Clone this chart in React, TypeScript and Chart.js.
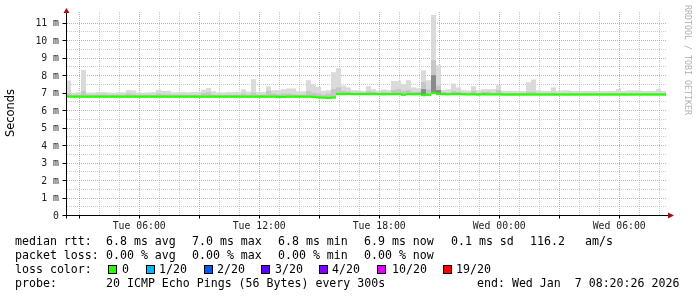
import React, { useEffect, useRef } from 'react';
import { Chart, registerables } from 'chart.js';
Chart.register(...registerables);

// time axis: hours since Tue 00:00; graph covers 30 h ending Wed 08:20:26
const startHour = 2.3406;
const spanHours = 30;
const tickHours = [6, 12, 18, 24, 30];
const tickLabels = ['Tue 06:00', 'Tue 12:00', 'Tue 18:00', 'Wed 00:00', 'Wed 06:00'];
const yMax = 11.5;

// 120 bins of 15 minutes, values in ms
const medianRtt = [
  6.77, 6.77, 6.77, 6.77, 6.77, 6.77, 6.77, 6.77, 6.77, 6.77,
  6.77, 6.77, 6.77, 6.77, 6.77, 6.77, 6.77, 6.77, 6.77, 6.77,
  6.77, 6.77, 6.77, 6.77, 6.77, 6.77, 6.77, 6.77, 6.77, 6.77,
  6.77, 6.77, 6.77, 6.77, 6.77, 6.77, 6.77, 6.77, 6.77, 6.77,
  6.77, 6.77, 6.76, 6.76, 6.77, 6.77, 6.77, 6.77, 6.77, 6.76,
  6.73, 6.71, 6.7, 6.72, 6.92, 6.92, 6.93, 6.92, 6.92, 6.92,
  6.92, 6.92, 6.92, 6.91, 6.92, 6.92, 6.92, 6.88, 6.92, 6.91,
  6.92, 6.86, 6.88, 6.98, 6.92, 6.92, 6.91, 6.92, 6.92, 6.91,
  6.9, 6.91, 6.89, 6.91, 6.9, 6.9, 6.9, 6.89, 6.89, 6.89,
  6.89, 6.89, 6.89, 6.89, 6.89, 6.89, 6.89, 6.89, 6.89, 6.89,
  6.89, 6.89, 6.89, 6.89, 6.89, 6.89, 6.89, 6.89, 6.89, 6.89,
  6.89, 6.89, 6.89, 6.89, 6.89, 6.89, 6.89, 6.89, 6.89, 6.89,
];

const smokeMax = [
  7.7, 7.0, 7.02, 8.3, 7.0, 7.01, 7.04, 7.04, 7.01, 7.0,
  7.02, 7.02, 7.14, 7.12, 7.02, 7.0, 7.02, 7.03, 7.17, 7.1,
  7.1, 7.02, 7.02, 7.03, 7.02, 7.04, 7.04, 7.17, 7.26, 7.08,
  7.02, 7.01, 7.03, 7.03, 7.04, 7.19, 7.06, 7.77, 7.04, 7.03,
  7.37, 7.14, 7.14, 7.2, 7.24, 7.24, 7.08, 7.08, 7.71, 7.5,
  7.33, 7.1, 7.14, 8.17, 8.4, 7.4, 7.3, 7.14, 7.14, 7.1,
  7.37, 7.2, 7.12, 7.18, 7.15, 7.67, 7.67, 7.5, 7.71, 7.3,
  7.25, 8.28, 7.71, 11.45, 8.57, 7.14, 7.2, 7.52, 7.3, 7.14,
  7.12, 7.37, 7.14, 7.2, 7.2, 7.2, 7.43, 7.1, 7.1, 7.1,
  7.09, 7.09, 7.6, 7.75, 7.13, 7.09, 7.1, 7.3, 7.1, 7.13,
  7.13, 7.09, 7.09, 7.09, 7.1, 7.09, 7.09, 7.09, 7.09, 7.1,
  7.2, 7.09, 7.13, 7.13, 7.13, 7.09, 7.09, 7.1, 7.2, 7.1,
];

const smokeMid = [
  6.95, 6.88, 6.88, 7.1, 6.88, 6.88, 6.9, 6.9, 6.88, 6.88,
  6.88, 6.88, 6.95, 6.9, 6.88, 6.88, 6.88, 6.88, 6.95, 6.9,
  6.9, 6.88, 6.88, 6.88, 6.88, 6.88, 6.88, 6.98, 7.02, 6.88,
  6.88, 6.88, 6.88, 6.88, 6.88, 6.95, 6.88, 7.0, 6.88, 6.88,
  7.1, 6.95, 6.9, 6.95, 6.95, 6.9, 6.88, 6.88, 7.1, 7.0,
  6.95, 6.88, 6.95, 7.2, 7.3, 7.1, 7.05, 7.0, 7.0, 6.99,
  7.1, 7.05, 6.99, 7.05, 6.99, 7.15, 7.2, 7.1, 7.15, 7.05,
  7.05, 7.6, 7.2, 8.86, 7.4, 7.05, 7.0, 7.1, 7.05, 7.0,
  6.99, 7.1, 6.99, 7.05, 7.05, 6.99, 7.15, 6.98, 6.98, 6.98,
  6.97, 6.97, 7.05, 7.05, 6.97, 6.97, 6.97, 7.0, 6.97, 6.97,
  6.97, 6.97, 6.97, 6.97, 6.97, 6.97, 6.97, 6.97, 6.97, 6.97,
  6.97, 6.97, 6.97, 6.97, 6.97, 6.97, 6.97, 6.97, 6.97, 6.97,
];

const darkBins = [71, 73, 74];
const darkTops = [7.2, 8.0, 7.15];

const lossLabels = ['0', '1/20', '2/20', '3/20', '4/20', '10/20', '19/20'];
const lossColors = ['#26ff00', '#00b8ff', '#0059ff', '#5e00ff', '#7e00ff', '#dd00ff', '#ff0000'];

const MAJOR = 'rgba(225,80,80,0.55)';
const MINOR = 'rgba(143,143,143,0.45)';
const MONO = "'DejaVu Sans Mono', monospace";

const gridPlugin = {
  id: 'rrdGrid',
  beforeDatasetsDraw(chart: any) {
    const { ctx, chartArea } = chart;
    const ys = chart.scales.y;
    const xs = chart.scales.xt;
    ctx.save();
    ctx.lineWidth = 1;
    ctx.setLineDash([1, 1]);
    const top = Math.round(chartArea.top) - 2;
    const bottom = Math.round(chartArea.bottom);
    const left = Math.round(chartArea.left) + 1;
    const right = Math.round(chartArea.right);
    for (const major of [false, true]) {
      ctx.strokeStyle = major ? MAJOR : MINOR;
      ctx.beginPath();
      for (const t of xs.ticks) {
        if ((t.value % 3 === 0) !== major) continue;
        const px = Math.floor(xs.getPixelForValue(t.value)) + 0.5;
        ctx.moveTo(px, top);
        ctx.lineTo(px, bottom);
      }
      for (const t of ys.ticks) {
        if (t.value === 0 || t.value >= yMax) continue;
        if (Number.isInteger(t.value) !== major) continue;
        const py = Math.round(ys.getPixelForValue(t.value)) + 0.5;
        ctx.moveTo(left, py);
        ctx.lineTo(right, py);
      }
      ctx.stroke();
    }
    ctx.restore();
  },
};

const axesPlugin = {
  id: 'rrdAxes',
  afterDraw(chart: any) {
    const { ctx, chartArea } = chart;
    const ys = chart.scales.y;
    const xs = chart.scales.xt;
    const ax = Math.round(chartArea.left) + 0.5;
    const ay = Math.round(chartArea.bottom) + 0.5;
    ctx.save();
    ctx.strokeStyle = '#000';
    ctx.lineWidth = 1;
    ctx.beginPath();
    ctx.moveTo(ax - 4, ay);
    ctx.lineTo(chartArea.right + 3, ay);
    ctx.moveTo(ax, ay + 3);
    ctx.lineTo(ax, chartArea.top - 3);
    for (const t of ys.ticks) {
      if (!Number.isInteger(t.value) || t.value === 0) continue;
      const py = Math.round(ys.getPixelForValue(t.value)) + 0.5;
      ctx.moveTo(ax - 4, py);
      ctx.lineTo(ax, py);
    }
    for (const t of xs.ticks) {
      if (t.value % 3 !== 0) continue;
      const px = Math.floor(xs.getPixelForValue(t.value)) + 0.5;
      ctx.moveTo(px, ay);
      ctx.lineTo(px, ay + 3);
    }
    ctx.stroke();
    ctx.fillStyle = '#a01010';
    ctx.beginPath();
    ctx.moveTo(chartArea.right + 2, ay - 3);
    ctx.lineTo(chartArea.right + 8, ay);
    ctx.lineTo(chartArea.right + 2, ay + 3);
    ctx.closePath();
    ctx.fill();
    ctx.beginPath();
    ctx.moveTo(ax - 3, chartArea.top - 1);
    ctx.lineTo(ax, chartArea.top - 6);
    ctx.lineTo(ax + 3, chartArea.top - 1);
    ctx.closePath();
    ctx.fill();
    ctx.restore();
  },
};

const textBase: React.CSSProperties = {
  position: 'absolute',
  fontFamily: MONO,
  fontSize: '11.6px',
  lineHeight: '14px',
  whiteSpace: 'pre',
  color: '#000',
};

function T({ x, y, s }: { x: number; y: number; s: string }) {
  return <div style={{ ...textBase, left: x, top: y }}>{s}</div>;
}

export default function App() {
  const ref = useRef<HTMLCanvasElement>(null);
  useEffect(() => {
    const labels = medianRtt.map((_, i) => String(i));
    const common = {
      xAxisID: 'x',
      yAxisID: 'y',
      grouped: false,
      borderWidth: 0,
      inflateAmount: 0,
      barPercentage: 1,
      categoryPercentage: 1,
    };
    const chart = new Chart(ref.current as HTMLCanvasElement, {
      type: 'bar',
      data: {
        labels,
        datasets: [
          {
            ...common,
            label: 'median',
            data: medianRtt.map((m) => [m - 0.065, m + 0.065]) as any,
            backgroundColor: lossColors[0],
          },
          {
            ...common,
            label: 'dark',
            data: labels.map((_, i) => {
              const k = darkBins.indexOf(i);
              return k >= 0 ? [medianRtt[i], darkTops[k]] : null;
            }) as any,
            backgroundColor: '#8a8a8a',
          },
          {
            ...common,
            label: 'mid',
            data: medianRtt.map((m, i) => [m, smokeMid[i]]) as any,
            backgroundColor: '#c6c6c6',
          },
          {
            ...common,
            label: 'smoke',
            data: medianRtt.map((m, i) => [m, smokeMax[i]]) as any,
            backgroundColor: '#dadada',
          },
        ],
      },
      options: {
        animation: false,
        responsive: false,
        devicePixelRatio: 1,
        layout: { padding: { top: 14, right: 31, left: 0, bottom: 0 } },
        plugins: { legend: { display: false }, tooltip: { enabled: false } },
        scales: {
          x: { type: 'category', display: false, offset: true },
          xt: {
            type: 'linear',
            position: 'bottom',
            offset: false,
            min: startHour,
            max: startHour + spanHours,
            afterFit: (s: any) => {
              s.height = 82;
            },
            afterBuildTicks: (s: any) => {
              const t = [];
              for (let h = Math.ceil(startHour); h <= startHour + spanHours; h++) t.push({ value: h });
              s.ticks = t;
            },
            grid: { display: false, offset: false, drawTicks: false },
            border: { display: false },
            ticks: {
              autoSkip: false,
              maxRotation: 0,
              padding: 6,
              color: '#222',
              font: { family: MONO, size: 9.8 },
              callback: (v: any) => {
                const i = tickHours.indexOf(Number(v));
                return i >= 0 ? tickLabels[i] : '';
              },
            },
          },
          y: {
            type: 'linear',
            offset: false,
            min: 0,
            max: yMax,
            afterFit: (s: any) => {
              s.width = 66;
            },
            grid: { display: false, offset: false, drawTicks: false },
            border: { display: false },
            ticks: {
              stepSize: 0.5,
              autoSkip: false,
              padding: 7,
              labelOffset: 1,
              color: '#222',
              font: { family: MONO, size: 9.8 },
              callback: (v: any) => {
                const n = Number(v);
                if (!Number.isInteger(n)) return '';
                return n === 0 ? '0' : n + ' m';
              },
            },
          },
        },
      },
      plugins: [gridPlugin, axesPlugin],
    });
    return () => chart.destroy();
  }, []);

  const squareX = [108, 146, 204, 261, 319, 377, 443];
  const lossLabelX = [122, 159, 217, 275, 332, 392, 456];

  return (
    <div style={{ position: 'fixed', left: 0, top: 0, width: 697, height: 297, background: '#fff', overflow: 'hidden' }}>
      <canvas ref={ref} width={697} height={297} style={{ position: 'absolute', left: 0, top: 0, width: 697, height: 297 }} />
      <div
        style={{
          position: 'absolute',
          left: 10 - 50,
          top: 113 - 7,
          width: 100,
          height: 14,
          lineHeight: '14px',
          textAlign: 'center',
          fontFamily: "'DejaVu Sans', sans-serif",
          fontSize: '11.4px',
          color: '#000',
          transform: 'rotate(-90deg)',
          transformOrigin: '50% 50%',
        }}
      >
        Seconds
      </div>
      <div
        style={{
          position: 'absolute',
          left: 688 - 70,
          top: 60 - 6,
          width: 140,
          height: 12,
          lineHeight: '12px',
          textAlign: 'center',
          fontFamily: MONO,
          fontSize: '8.3px',
          color: '#b0b0b0',
          whiteSpace: 'pre',
          transform: 'rotate(90deg)',
          transformOrigin: '50% 50%',
        }}
      >
        RRDTOOL / TOBI OETIKER
      </div>

      <T x={15} y={234} s="median rtt:" />
      <T x={106} y={234} s="6.8 ms avg" />
      <T x={192} y={234} s="7.0 ms max" />
      <T x={278} y={234} s="6.8 ms min" />
      <T x={364} y={234} s="6.9 ms now" />
      <T x={451} y={234} s="0.1 ms sd" />
      <T x={530} y={234} s="116.2" />
      <T x={585} y={234} s="am/s" />

      <T x={15} y={248} s="packet loss:" />
      <T x={106} y={248} s="0.00 % avg" />
      <T x={192} y={248} s="0.00 % max" />
      <T x={278} y={248} s="0.00 % min" />
      <T x={364} y={248} s="0.00 % now" />

      <T x={15} y={262} s="loss color:" />
      {lossLabels.map((l, i) => (
        <React.Fragment key={l}>
          <div
            style={{
              position: 'absolute',
              left: squareX[i],
              top: 265,
              width: 7,
              height: 7,
              border: '1px solid #000',
              background: lossColors[i],
            }}
          />
          <T x={lossLabelX[i]} y={262} s={l} />
        </React.Fragment>
      ))}

      <T x={15} y={276} s="probe:" />
      <T x={106} y={276} s="20 ICMP Echo Pings (56 Bytes) every 300s" />
      <T x={477} y={276} s="end: Wed Jan  7 08:20:26 2026" />
    </div>
  );
}
